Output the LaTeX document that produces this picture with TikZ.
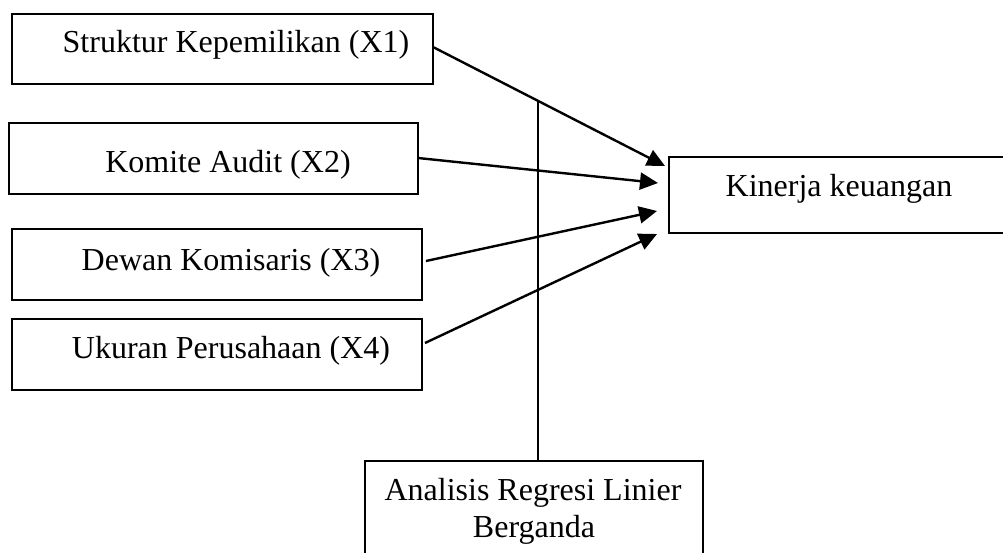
\documentclass[tikz,border=0pt]{standalone}
\usepackage{fontspec}
\setmainfont{Liberation Serif}
\usetikzlibrary{arrows.meta}
\begin{document}
\begin{tikzpicture}[x=1pt,y=-1pt,
  box/.style={draw, line width=1.9pt, rectangle, inner sep=0pt},
  lbl/.style={anchor=base, inner sep=0pt, font=\fontsize{32}{37}\selectfont},
  arr/.style={line width=2.4pt, -{Triangle[length=18pt,width=17pt]}},
  vline/.style={line width=1.7pt}]
\useasboundingbox (0,0) rectangle (1003,553);
% boxes
\node[box, minimum width=421pt, minimum height=70pt] (x1) at (222.5,49) {};
\node[box, minimum width=409pt, minimum height=71pt] (x2) at (213.5,158.5) {};
\node[box, minimum width=410pt, minimum height=71pt] (x3) at (217,264.5) {};
\node[box, minimum width=410pt, minimum height=71pt] (x4) at (217,354.5) {};
\node[box, minimum width=340pt, minimum height=76pt] (y) at (839,195) {};
\node[box, minimum width=338pt, minimum height=100pt] (ana) at (534,511) {};
% texts
\node[lbl] (t1) at (236,53) {Struktur Kepemilikan (X1)};
\node[lbl] (t2) at (228,173) {Komite Audit (X2)};
\node[lbl] (t3) at (231,270) {Dewan Komisaris (X3)};
\node[lbl] (t4) at (231,358) {Ukuran Perusahaan (X4)};
\node[lbl] (ty) at (839,197) {Kinerja keuangan};
\node[lbl] (ta1) at (533,500) {Analisis Regresi Linier};
\node[lbl] (ta2) at (534,537) {Berganda};
% arrow endpoints
\coordinate (s1) at (433,47);
\coordinate (s2) at (418,158);
\coordinate (s3) at (426,261);
\coordinate (s4) at (425,343);
\coordinate (e1) at (665,166);
\coordinate (e2) at (658,183);
\coordinate (e3) at (657,211);
\coordinate (e4) at (657,234);
\draw[arr] (s1) -- (e1);
\draw[arr] (s2) -- (e2);
\draw[arr] (s3) -- (e3);
\draw[arr] (s4) -- (e4);
% vertical line
\coordinate (vtop) at (538,101);
\draw[vline] (vtop) -- (vtop |- ana.north);
\end{tikzpicture}
\end{document}
